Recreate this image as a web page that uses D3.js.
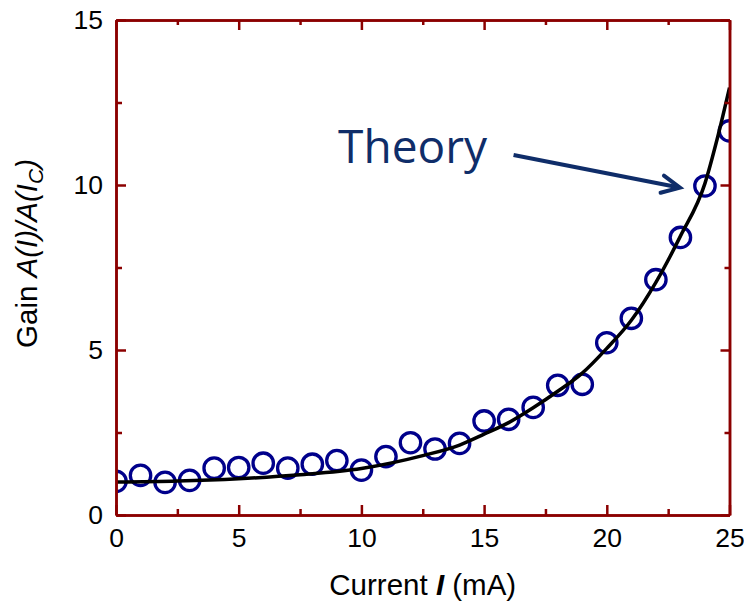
<!DOCTYPE html>
<html>
<head>
<meta charset="utf-8">
<script src="https://cdn.jsdelivr.net/npm/d3@7"></script>
<style>
  body { margin: 0; background: #fff; }
  svg { display: block; }
  .tick text { font-family: "Liberation Sans", Arial, sans-serif; font-size: 26.5px; fill: #000; }
</style>
</head>
<body>
<svg id="chart" width="744" height="602"></svg>
<script>
// Measured gain vs current
var currents = [0, 1, 2, 3, 4, 5, 6, 7, 8, 9, 10, 11, 12, 13, 14, 15, 16, 17, 18, 19, 20, 21, 22, 23, 24, 25];
var gains = [1.02, 1.2, 0.99, 1.05, 1.42, 1.44, 1.57, 1.42, 1.54, 1.65, 1.36, 1.77, 2.19, 2.0, 2.17,
             2.85, 2.9, 3.26, 3.93, 3.96, 5.22, 5.96, 7.13, 8.41, 9.97, 11.64];

// Theory curve
var theoryI = [0, 2.5, 5, 7.5, 10, 12.5, 14, 15, 16, 17, 18, 19, 20, 21, 22, 23, 24, 24.5, 25];
var theoryG = [1.0, 1.03, 1.1, 1.22, 1.41, 1.8, 2.12, 2.45, 2.8, 3.25, 3.75, 4.3, 5.05, 5.9, 7.05, 8.45, 10.05, 11.4, 12.95];

var xMajor = [0, 5, 10, 15, 20, 25];
var xMinor = [2.5, 7.5, 12.5, 17.5, 22.5];
var yMajor = [0, 5, 10, 15];
var yMinor = [2.5, 7.5, 12.5];

// annotation, in data units
var labelText = "Theory";
var labelPos = [9.05, 10.67];
var arrowFrom = [16.2, 10.91];
var arrowTo = [22.98, 9.92];

var axisColor = "#8b0000",
    pointColor = "#00008b",
    noteColor = "#0f2d69";

var svg = d3.select("#chart"),
    W = 744, H = 602,
    margin = {left: 116, right: 14.5, top: 20, bottom: 87},
    w = W - margin.left - margin.right,
    h = H - margin.top - margin.bottom;

var x = d3.scaleLinear().domain([0, 25]).range([0, w]);
var y = d3.scaleLinear().domain([0, 15]).range([h, 0]);

var g = svg.append("g").attr("transform", "translate(" + margin.left + "," + margin.top + ")");

g.append("clipPath").attr("id", "plotclip")
  .append("rect").attr("x", 0).attr("y", 0).attr("width", w).attr("height", h);

var plot = g.append("g").attr("clip-path", "url(#plotclip)");

// data circles
plot.selectAll("circle.pt")
  .data(d3.zip(currents, gains))
  .enter().append("circle")
  .attr("class", "pt")
  .attr("cx", function(d) { return x(d[0]); })
  .attr("cy", function(d) { return y(d[1]); })
  .attr("r", 10.2)
  .attr("fill", "none")
  .attr("stroke", pointColor)
  .attr("stroke-width", 3.3);

// theory line
var line = d3.line()
  .x(function(d) { return x(d[0]); })
  .y(function(d) { return y(d[1]); })
  .curve(d3.curveMonotoneX);

plot.append("path")
  .attr("d", line(d3.zip(theoryI, theoryG)))
  .attr("fill", "none")
  .attr("stroke", "#000")
  .attr("stroke-width", 3.5);

// axes: major + minor ticks, all inward
var styleAxis = function(sel) {
  sel.selectAll("path.domain").attr("stroke", axisColor).attr("stroke-width", 2.5);
  sel.selectAll(".tick line").attr("stroke", axisColor).attr("stroke-width", 2.5);
};

g.append("g").attr("transform", "translate(0," + h + ")")
  .call(d3.axisBottom(x).tickValues(xMajor).tickFormat(d3.format("d")).tickSizeInner(-10).tickSizeOuter(0).tickPadding(13))
  .call(styleAxis);
g.append("g").attr("transform", "translate(0," + h + ")")
  .call(d3.axisBottom(x).tickValues(xMinor).tickFormat("").tickSizeInner(-6).tickSizeOuter(0))
  .call(styleAxis);

g.append("g")
  .call(d3.axisTop(x).tickValues(xMajor).tickFormat("").tickSizeInner(-10).tickSizeOuter(0))
  .call(styleAxis);
g.append("g")
  .call(d3.axisTop(x).tickValues(xMinor).tickFormat("").tickSizeInner(-5).tickSizeOuter(0))
  .call(styleAxis);

g.append("g")
  .call(d3.axisLeft(y).tickValues(yMajor).tickFormat(d3.format("d")).tickSizeInner(-10).tickSizeOuter(0).tickPadding(13))
  .call(styleAxis);
g.append("g")
  .call(d3.axisLeft(y).tickValues(yMinor).tickFormat("").tickSizeInner(-6).tickSizeOuter(0))
  .call(styleAxis);

g.append("g").attr("transform", "translate(" + w + ",0)")
  .call(d3.axisRight(y).tickValues(yMajor).tickFormat("").tickSizeInner(-9).tickSizeOuter(0))
  .call(styleAxis);
g.append("g").attr("transform", "translate(" + w + ",0)")
  .call(d3.axisRight(y).tickValues(yMinor).tickFormat("").tickSizeInner(-5).tickSizeOuter(0))
  .call(styleAxis);

g.selectAll(".tick text").attr("font-family", null).attr("font-size", null);

// axis titles
var xTitle = svg.append("text")
  .attr("x", margin.left + w / 2)
  .attr("y", 595)
  .attr("text-anchor", "middle")
  .attr("font-family", "Liberation Sans, Arial, sans-serif")
  .attr("font-size", 29.5);
xTitle.append("tspan").text("Current ");
xTitle.append("tspan").attr("font-style", "italic").attr("font-weight", "bold").text("I");
xTitle.append("tspan").text(" (mA)");

var yTitle = svg.append("text")
  .attr("transform", "translate(37," + (margin.top + h / 2 - 14) + ") rotate(-90)")
  .attr("text-anchor", "middle")
  .attr("font-family", "Liberation Sans, Arial, sans-serif")
  .attr("font-size", 29.5);
yTitle.append("tspan").text("Gain ");
yTitle.append("tspan").attr("font-style", "italic").text("A(I)/A(I");
yTitle.append("tspan").attr("font-style", "italic").attr("font-size", 21).attr("dy", 6).text("C");
yTitle.append("tspan").attr("font-style", "italic").attr("dy", -6).text(")");

// annotation
g.append("text")
  .attr("x", x(labelPos[0]))
  .attr("y", y(labelPos[1]))
  .attr("font-family", "Open Sans, sans-serif")
  .attr("font-size", 46)
  .attr("fill", noteColor)
  .text(labelText);

var ax1 = x(arrowFrom[0]), ay1 = y(arrowFrom[1]),
    ax2 = x(arrowTo[0]), ay2 = y(arrowTo[1]);
var ang = Math.atan2(ay2 - ay1, ax2 - ax1),
    head = 20, spread = 0.45;

g.append("line")
  .attr("x1", ax1).attr("y1", ay1)
  .attr("x2", ax2 - 2 * Math.cos(ang)).attr("y2", ay2 - 2 * Math.sin(ang))
  .attr("stroke", noteColor)
  .attr("stroke-width", 4);

g.append("path")
  .attr("d", "M" + (ax2 - head * Math.cos(ang - spread)) + "," + (ay2 - head * Math.sin(ang - spread)) +
             "L" + ax2 + "," + ay2 +
             "L" + (ax2 - head * Math.cos(ang + spread)) + "," + (ay2 - head * Math.sin(ang + spread)))
  .attr("fill", "none")
  .attr("stroke", noteColor)
  .attr("stroke-width", 4)
  .attr("stroke-linecap", "round")
  .attr("stroke-linejoin", "miter");
</script>
</body>
</html>
